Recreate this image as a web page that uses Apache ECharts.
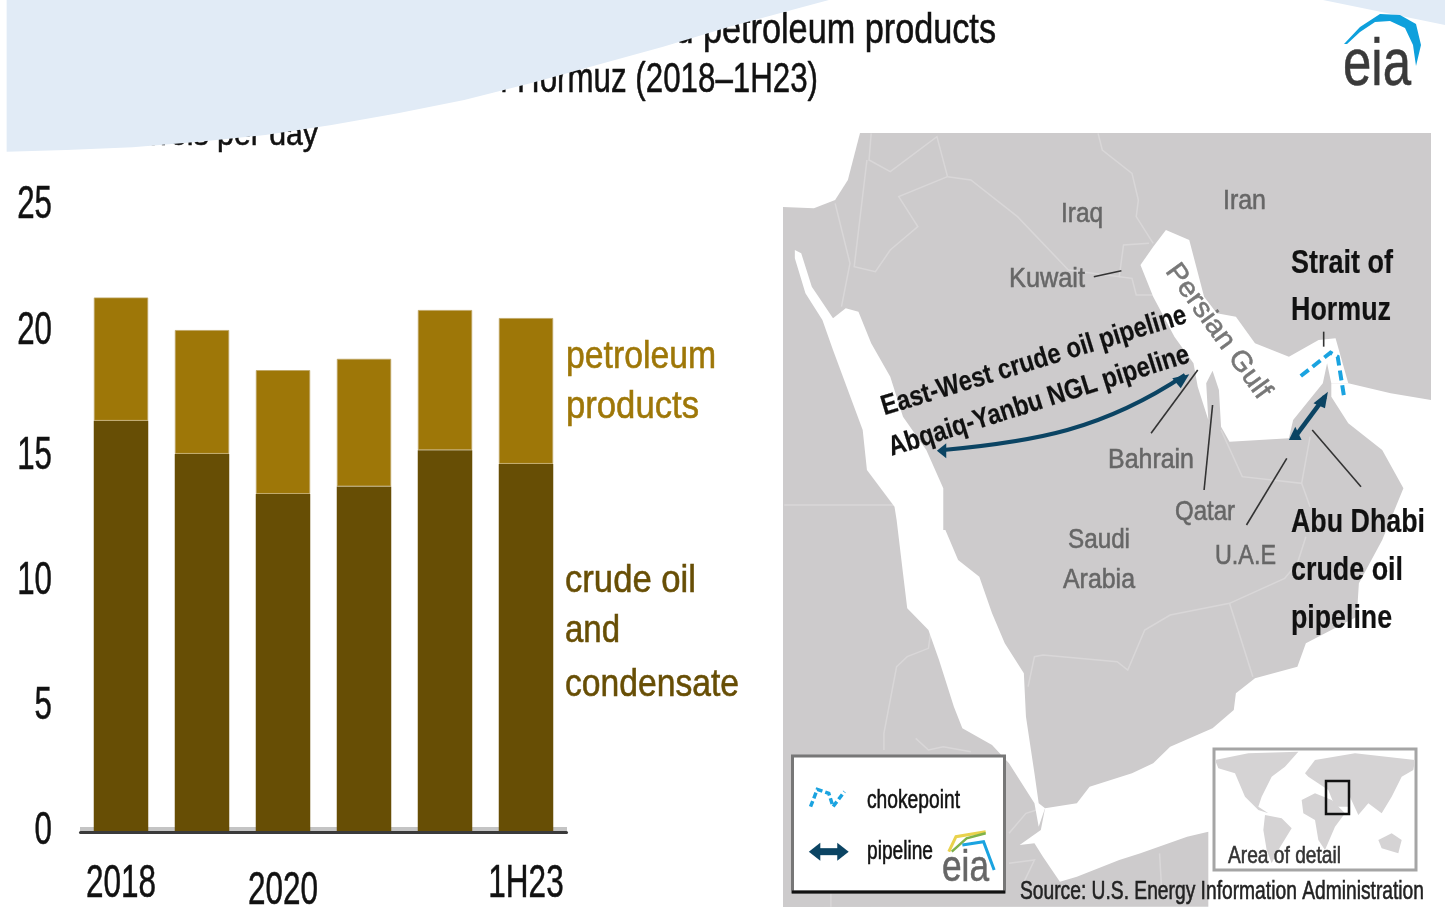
<!DOCTYPE html>
<html><head><meta charset="utf-8">
<style>html,body{margin:0;padding:0;background:#fff}#c{width:1445px;height:918px}</style>
<script src="https://cdn.jsdelivr.net/npm/echarts@6/dist/echarts.min.js"></script>
</head><body><div id="c"></div>
<script>
// ---- chart data (million barrels per day) ----
const categories = ['2018','2019','2020','2021','2022','1H23'];
const shownCategories = ['2018','2020','1H23'];
const crudeAndCondensate = [16.42, 15.1, 13.5, 13.8, 15.25, 14.7];
const petroleumProducts = [4.93, 4.95, 4.95, 5.1, 5.6, 5.83];
const yTicks = [0,5,10,15,20,25];

const SANS = '"Liberation Sans", Arial, sans-serif';
const ctx = document.createElement('canvas').getContext('2d');
const els = [];

function T(str, x, y, size, o) {
  o = o || {};
  const font = (o.bold ? 'bold ' : '') + size + 'px ' + SANS;
  ctx.font = font;
  const sx = o.w ? o.w / ctx.measureText(str).width : (o.sx || 0.78);
  const fill = o.color || '#111';
  els.push({type:'text', x, y:y+1.5, scaleX:sx, scaleY:1, rotation:(o.rot||0)*Math.PI/180, silent:true, z:o.z||1,
    style:{text:str, font, fill, stroke:fill, lineWidth:o.bold?0.2:0.55, align:o.align||'left', verticalAlign:'middle'}});
}
const a = p => [780 + p[0]/2.358, 130 + p[1]/3];   // upper-map tracing
const b = p => [780 + p[0]/2.358, 520 + p[1]/3];   // lower-map tracing
const w = p => [1205 + p[0]/3, 740 + p[1]/3];      // inset tracing
const h = p => [p[0]/1.508, p[1]/3];               // heading-swoosh tracing
function poly(points, fill, z){ els.push({type:'polygon', silent:true, z:z||1, shape:{points}, style:{fill}}); }
function line(points, stroke, lw, z, dash){ els.push({type:'polyline', silent:true, z:z||1, shape:{points}, style:{stroke, lineWidth:lw, fill:null, lineDash:dash||null}}); }
function rect(x,y,wd,h,style,z){ els.push({type:'rect', silent:true, z:z||1, shape:{x,y,width:wd,height:h}, style}); }

// ---- map ----
const LAND='#cdcbcc', BORDER='#d9d7d8', GREY='#666', NAVY='#0b4463', SKY='#1aa3e0';
rect(783,133,648,774,{fill:LAND});
poly([[783,133],[860,133],a([160,150]),a([130,210]),a([80,235]),[783,207]],'#fff',1);
const borderTraces=[
 [[215,10],[210,90],[260,125],[370,20],[395,140]],
 [[395,140],[280,200],[325,290],[260,360],[225,425],[175,410],[205,90]],
 [[395,140],[450,150],[560,260],[680,420],[800,440],[810,345],[870,340]],
 [[750,10],[760,60],[830,130],[845,210],[840,260],[880,340]],
 [[800,440],[830,445],[840,495],[880,495]],
 [[1040,900],[1090,1040],[1230,1060],[1250,920]],
 [[1230,1060],[1250,1130]],
 [[10,1125],[270,1125]],
 [[130,220],[165,400],[145,530]]
];
borderTraces.forEach(t=>line(t.map(a),BORDER,1.5,2));
const borderTracesLow=[
 [[1240,50],[1220,130],[1190,175],[1060,250],[920,285],[860,330],[820,450],[795,425],[620,405],[600,410],[585,500]],
 [[1060,250],[1115,470]],
 [[355,340],[350,385],[300,410],[275,440],[245,640],[245,690]],
 [[320,655],[350,690],[385,680],[450,695]],
 [[540,940],[580,880],[605,870]],
 [[540,1030],[600,1020],[570,1100]],
 [[895,1000],[900,1110]],
 [[120,1120],[120,1160]]
];
borderTracesLow.forEach(t=>line(t.map(b),BORDER,1.5,2));
// seas
poly([
 ...[[35,360],[50,370],[75,470],[125,565],[155,535],[185,545],[215,640],[260,740],[290,860],[345,960],[385,1075],[385,1200]].map(a),
 ...[[390,30],[420,120],[470,170],[500,280],[530,370],[575,460],[580,590],[600,760],[610,850],[625,865],[610,920],[600,850],[540,730],[500,675],[430,625],[410,560],[375,420],[350,330],[300,265],[290,160],[275,0]].map(b),
 ...[[270,1130],[205,1020],[195,900],[125,660],[100,570],[60,490],[35,385]].map(a)
],'#fff',3);
poly([
 ...[[625,865],[700,850],[730,800],[830,760],[880,730],[920,680],[1020,625],[1070,570],[1075,520],[1120,475],[1220,440],[1240,370],[1360,290],[1365,190],[1420,60]].map(b),
 ...[[1470,1075],[1420,960],[1340,880],[1300,800],[1300,760],[1340,760],[1440,790],[1535,810]].map(a),
 [1445,400],[1445,918],[783,918],[783,907],b([1010,1160]),
 ...[[1010,935],[960,950],[850,1000],[800,1020],[700,1070],[660,1085],[620,1010],[600,970],[565,975],[615,930]].map(b)
],'#fff',3);
poly([[910,300],[965,330],[1000,500],[1030,550],[1075,560],[1120,640],[1200,680],[1270,630],[1310,625],[1340,760],[1300,760],[1290,700],[1280,760],[1210,870],[1200,925],[1060,935],[1040,890],[1035,780],[1020,722],[1005,760],[1010,870],[985,770],[975,700],[930,620],[880,500],[850,405],[880,350]].map(a),'#fff',3);

// leader lines
[[[740,440],[805,422]],[[985,720],[875,910]],[[1020,825],[1000,1080]],[[1195,985],[1100,1185]],[[1255,900],[1370,1070]],[[1282,605],[1282,650]]]
 .forEach(t=>line(t.map(a),'#333',1.6,5));
// pipelines
const ew0=a([955,735]), ew1=a([385,960]), c1=a([760,900]), c2=a([600,935]);
els.push({type:'bezierCurve',silent:true,z:5,shape:{x1:ew0[0],y1:ew0[1],x2:ew1[0],y2:ew1[1],cpx1:c1[0],cpy1:c1[1],cpx2:c2[0],cpy2:c2[1]},style:{stroke:NAVY,lineWidth:4,fill:null}});
poly([[370,962],[392,940],[392,985]].map(a),NAVY,5);
poly([[965,733],[925,745],[945,775]].map(a),NAVY,5);
line([[1285,800],[1215,920]].map(a),NAVY,4.5,5);
poly([[1292,785],[1258,820],[1285,835]].map(a),NAVY,5);
poly([[1200,930],[1230,930],[1215,890]].map(a),NAVY,5);
// chokepoint
line([[1228,738],[1298,668],[1315,680],[1330,800]].map(a),SKY,4,5,[10,5]);

// map labels
T('Iraq',1061,213,28,{w:42,color:GREY,z:6});
T('Iran',1223,200,28,{w:43,color:GREY,z:6});
T('Kuwait',1009,278,28,{w:76,color:GREY,z:6});
T('Bahrain',1108,459,28,{w:86,color:GREY,z:6});
T('Qatar',1175,511,28,{w:60,color:GREY,z:6});
T('Saudi',1068,539,28,{w:62,color:GREY,z:6});
T('Arabia',1063,579,28,{w:72,color:GREY,z:6});
T('U.A.E',1215,555,28,{w:61,color:GREY,z:6});
T('Persian Gulf',1218,330,28,{w:160,color:'#777',align:'center',rot:-54,z:6});
T('East-West crude oil pipeline',1034,360,28,{bold:true,w:318,align:'center',rot:17,z:6});
T('Abqaiq-Yanbu NGL pipeline',1039,400,28,{bold:true,w:314,align:'center',rot:17.5,z:6});
T('Strait of',1291,262,34,{bold:true,w:102,z:6});
T('Hormuz',1291,309,34,{bold:true,w:100,z:6});
T('Abu Dhabi',1291,521,34,{bold:true,w:134,z:6});
T('crude oil',1291,569,34,{bold:true,w:112,z:6});
T('pipeline',1291,617,34,{bold:true,w:101,z:6});

// legend box
rect(792.5,756,212,136,{fill:'#fff',stroke:'#777',lineWidth:3},6);
line([[792,892],[1005,892]],'#111',3,7);
line([[72,860],[88,808],[115,820],[125,860],[152,815]].map(b),SKY,3.5,7,[6,3]);
line([[80,995],[150,995]].map(b),NAVY,7,7);
poly([[68,995],[95,968],[95,1022]].map(b),NAVY,7);
poly([[162,995],[135,968],[135,1022]].map(b),NAVY,7);
T('chokepoint',867,799,26,{w:93,z:7});
T('pipeline',867,850,26,{w:66,z:7});
line([[398,995],[415,950],[485,935]].map(b),'#e9d24d',3,7);
line([[405,995],[440,955],[485,940]].map(b),'#7fb24a',2.5,7);
line([[430,975],[480,965],[505,1050]].map(b),SKY,3,7);
T('eia',942,867,44,{w:47,color:'#666',z:7});

// inset
rect(1214,749,202,121,{fill:'#fff',stroke:'#a5a5a5',lineWidth:3},3);
[[[30,60],[130,40],[280,35],[240,80],[200,110],[170,170],[160,200],[190,220],[160,210],[120,170],[90,100],[40,85]],
 [[180,225],[230,235],[260,265],[220,330],[200,370],[185,330],[175,270]],
 [[300,100],[330,60],[450,40],[630,60],[625,90],[590,110],[560,170],[530,220],[490,190],[460,225],[430,160],[370,150],[310,110]],
 [[290,180],[330,160],[380,180],[420,220],[390,260],[360,330],[340,300],[330,240],[295,220]],
 [[370,150],[440,150],[430,200],[390,200]],
 [[520,300],[560,280],[590,300],[580,340],[530,325]]].forEach(t=>poly(t.map(w),'#d5d3d4',4));
rect(1326,781,23,33,{fill:'none',stroke:'#111',lineWidth:2.5},5);
T('Area of detail',1228,855,24,{w:113,color:'#333',z:6});
T('Source: U.S. Energy Information Administration',1020,891,25,{w:404,color:'#222',z:8});

// heading (partly hidden by the swoosh)
T('Volume of crude oil, condensate, and petroleum products',996,30,42,{sx:0.815,align:'right',z:1});
T('transported through the Strait of Hormuz (2018\u20131H23)',818,79,42,{sx:0.745,align:'right',z:1});
T('million barrels per day',318,134,34,{sx:0.89,align:'right',z:1});
// swooshes
poly([[0,0],[1250,0],[1100,80],[1000,140],[900,195],[800,250],[700,300],[600,340],[500,375],[400,405],[300,425],[200,442],[100,450],[10,455],[10,0]].map(h).map((p,i)=>i===0?[6,0]:p),'#e1ebf6',10);
poly([[1323,0],[1445,25],[1445,0]],'#e1ebf6',10);
// eia logo
T('eia',1343,65,66,{w:68,color:'#3a3a3a',z:11});
poly([[1344,44],[1360,27],[1380,14],[1400,15],[1416,24],[1421,45],[1416,66],[1413,45],[1405,28],[1390,21],[1375,22],[1360,32],[1347,44]],'#0ea0dc',11);

// series captions
T('petroleum',566,356,38,{w:150,color:'#9e7708'});
T('products',566,406,38,{w:133,color:'#9e7708'});
T('crude oil',565,580,38,{w:131,color:'#674e05'});
T('and',565,630,38,{w:55,color:'#674e05'});
T('condensate',565,684,38,{w:174,color:'#674e05'});
// light band of the baseline
rect(80,827,487,4,{fill:'#c4c4c4'},0);

const chart = echarts.init(document.getElementById('c'), null, {renderer:'canvas'});
chart.setOption({
  animation:false,
  backgroundColor:'#fff',
  grid:{left:80.5,right:1445-566.5,top:206,bottom:918-832},
  xAxis:{type:'category',data:categories,z:3,
    axisTick:{show:false},axisLabel:{show:false},
    axisLine:{lineStyle:{color:'#3a3a3a',width:3}}},
  yAxis:{type:'value',min:yTicks[0],max:yTicks[yTicks.length-1],interval:5,
    splitLine:{show:false},axisLine:{show:false},axisTick:{show:false},axisLabel:{show:false}},
  series:[
    {name:'crude oil and condensate',type:'bar',stack:'v',barWidth:54.5,data:crudeAndCondensate,
     itemStyle:{color:'#674e05'}},
    {name:'petroleum products',type:'bar',stack:'v',barWidth:54.5,data:petroleumProducts,
     itemStyle:{color:'#9e7708',borderColor:'rgba(190,165,100,0.8)',borderWidth:1}}
  ]
});
// tick labels are condensed like the source, placed from the chart's own scales
yTicks.forEach(v=>{
  T(String(v),52,chart.convertToPixel({yAxisIndex:0},v)-2,47,{sx:0.665,align:'right',z:4});
});
shownCategories.forEach(c=>{
  T(c,chart.convertToPixel({xAxisIndex:0},c),c==='2020'?890:883,47,{sx:0.67,align:'center',z:4});
});
chart.setOption({graphic:{elements:els}});
</script></body></html>
